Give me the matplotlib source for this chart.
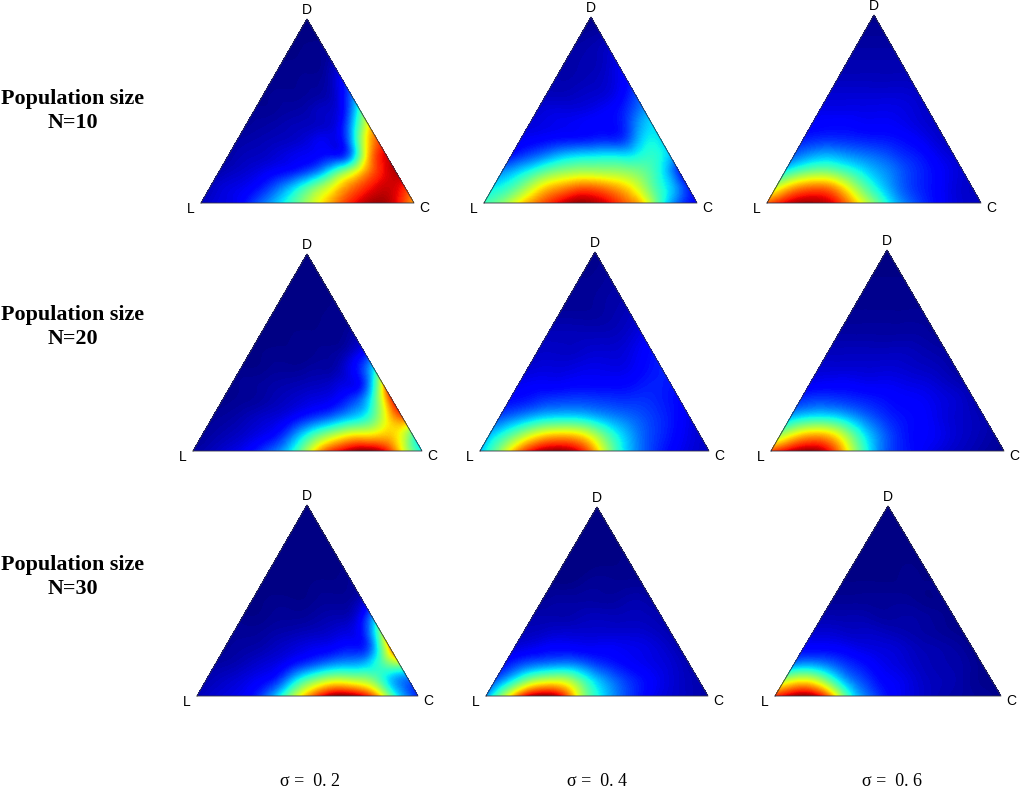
import numpy as np
import matplotlib
matplotlib.use('Agg')
import matplotlib.pyplot as plt
import matplotlib.tri as mtri

# values (percent of colour range) on a triangular lattice, bottom row first, L -> C
n10_s2 = [[5,8,10,18,28,40,54,68,82,92,97,90,72],
          [5,8,10,15,24,36,50,64,78,88,93,86],
          [4,6,8,11,14,20,32,50,68,86,95],
          [3,5,6,8,10,12,15,28,72,92],
          [3,4,5,6,8,10,13,50,82],
          [2,3,4,5,6,8,28,66],
          [2,2,3,4,6,12,42],
          [1,2,2,3,6,22],
          [1,1,2,3,12],
          [1,1,1,5],
          [0,1,2],
          [0,0],
          [0]]
n10_s4 = [[42,50,65,78,88,96,96,90,80,66,40,20,12],
          [35,42,55,68,75,80,78,72,62,46,32,15],
          [26,33,42,50,54,55,54,52,47,36,15],
          [14,20,26,32,35,36,36,37,40,30],
          [10,12,14,15,16,17,20,34,34],
          [8,9,10,11,12,13,24,34],
          [7,8,8,9,11,16,26],
          [5,5,6,7,10,18],
          [4,4,5,7,12],
          [3,4,5,9],
          [3,4,6],
          [2,3],
          [1]]
n10_s6 = [[80,90,96,95,86,68,50,33,22,15,10,7,5],
          [58,72,78,76,62,45,32,22,16,12,8,6],
          [36,46,50,46,38,30,24,18,14,10,7],
          [22,28,30,27,24,21,17,14,10,7],
          [15,17,17,16,15,14,12,9,6],
          [11,12,12,11,11,10,8,6],
          [9,9,9,9,9,8,6],
          [7,7,7,7,7,6],
          [5,5,5,5,5],
          [4,4,4,4],
          [3,3,3],
          [2,2],
          [1]]
n20_s2 = [[3,5,8,12,20,32,55,80,92,98,90,62,36],
          [2,4,6,9,14,28,44,56,64,66,68,45],
          [2,3,5,7,10,16,22,30,38,60,78],
          [1,2,3,5,7,9,12,20,42,85],
          [1,2,3,4,5,6,9,18,68],
          [1,1,2,2,3,4,12,34],
          [0,1,1,1,2,4,12],
          [0,0,1,1,1,4],
          [0,0,0,1,1],
          [0,0,0,1],
          [0,0,0],
          [0,0],
          [0]]
n20_s4 = [[30,50,75,92,97,92,72,45,28,18,12,8,6],
          [30,42,56,66,68,62,46,32,22,16,11,7],
          [20,26,32,35,35,31,26,22,18,14,9],
          [13,15,18,19,19,18,17,17,15,12],
          [10,11,11,12,12,12,13,15,14],
          [7,8,8,9,9,9,12,15],
          [6,6,6,7,7,9,13],
          [5,5,5,5,6,9],
          [3,3,3,4,6],
          [2,2,3,4],
          [2,2,3],
          [1,2],
          [1]]
n20_s6 = [[82,92,97,88,62,36,20,14,10,7,5,3,2],
          [52,66,70,60,40,25,16,12,10,7,5,3],
          [30,36,36,30,22,16,13,11,8,6,4],
          [17,19,18,16,14,12,11,9,7,4],
          [10,11,11,10,10,9,8,6,4],
          [7,7,7,7,7,6,5,3],
          [5,5,5,5,5,4,3],
          [3,3,3,3,3,2],
          [2,2,2,2,2],
          [1,1,1,1],
          [1,1,1],
          [0,0],
          [0]]
n30_s2 = [[5,7,9,13,25,48,72,92,98,90,65,32,15],
          [4,6,8,11,18,36,50,58,56,50,32,22],
          [3,4,6,8,12,18,24,28,30,42,52],
          [2,3,4,6,8,10,12,14,24,70],
          [2,2,3,4,5,6,8,14,50],
          [1,1,2,2,3,4,6,24],
          [0,1,1,1,2,2,6],
          [0,0,0,1,1,2],
          [0,0,0,0,1],
          [0,0,0,0],
          [0,0,0],
          [0,0],
          [0]]
n30_s4 = [[25,55,85,97,90,60,38,25,16,10,7,5,3],
          [20,36,52,58,54,38,26,18,13,9,6,4],
          [13,20,24,26,24,18,14,11,9,7,4],
          [8,10,12,12,11,11,10,9,7,4],
          [5,6,7,7,7,7,7,6,4],
          [4,4,4,5,5,5,5,4],
          [2,3,3,3,3,4,3],
          [1,1,2,2,2,2],
          [0,0,1,1,1],
          [0,0,0,1],
          [0,0,0],
          [0,0],
          [0]]
n30_s6 = [[85,95,95,72,38,22,13,9,6,4,3,2,1],
          [55,62,52,32,20,13,10,7,5,4,2,1],
          [25,27,22,16,12,9,7,5,4,3,1],
          [12,12,11,9,8,7,5,4,3,1],
          [7,7,6,6,5,4,3,2,1],
          [4,4,4,3,3,3,2,1],
          [2,2,2,2,2,1,1],
          [1,1,1,1,1,1],
          [0,0,0,1,0],
          [0,0,0,0],
          [0,0,0],
          [0,0],
          [0]]

panel_values = [n10_s2, n10_s4, n10_s6, n20_s2, n20_s4, n20_s6, n30_s2, n30_s4, n30_s6]
row_labels = ['Population size\nN=10', 'Population size\nN=20', 'Population size\nN=30']
col_labels = ['σ =  0. 2', 'σ =  0. 4', 'σ =  0. 6']

# triangle corners in figure pixels: L, C, D
corners = [((201, 203), (414, 203), (307, 19)),
           ((484, 203), (697, 203), (591, 17)),
           ((767, 203), (981, 203), (874, 15)),
           ((193, 451), (422, 451), (307, 254)),
           ((480, 451), (709, 451), (595, 252)),
           ((771, 451), (1004, 451), (887, 250)),
           ((197, 696), (418, 696), (307, 505)),
           ((486, 696), (708, 696), (597, 507)),
           ((775, 696), (1001, 696), (888, 506))]

fig = plt.figure(figsize=(10.24, 7.9), dpi=100)
ax = fig.add_axes([0, 0, 1, 1])
ax.set_xlim(0, 1024)
ax.set_ylim(790, 0)
ax.axis('off')

levels = np.linspace(0, 1, 129)
for vals, (L, C, D) in zip(panel_values, corners):
    L, C, D = np.array(L), np.array(C), np.array(D)
    m = len(vals) - 1
    px, py, z, index = [], [], [], {}
    for j, row in enumerate(vals):
        for i, v in enumerate(row):
            p = (L * (m - i - j) + C * i + D * j) / m
            index[(i, j)] = len(z)
            px.append(p[0])
            py.append(p[1])
            z.append(v / 100)
    tris = []
    for j in range(m):
        for i in range(m - j):
            tris.append([index[(i, j)], index[(i + 1, j)], index[(i, j + 1)]])
            if i + j + 2 <= m:
                tris.append([index[(i + 1, j)], index[(i + 1, j + 1)], index[(i, j + 1)]])
    triang = mtri.Triangulation(px, py, tris)
    fine, zf = mtri.UniformTriRefiner(triang).refine_field(np.array(z), subdiv=3)
    ax.tricontourf(fine, np.clip(zf, 0, 1), levels=levels, cmap='jet', vmin=0, vmax=1)
    ax.plot([L[0], C[0], D[0], L[0]], [L[1], C[1], D[1], L[1]], color='#333344', lw=0.6)
    ax.text(L[0] - 10, L[1] + 6, 'L', ha='center', va='center', fontsize=10, family='Liberation Sans')
    ax.text(C[0] + 10, C[1] + 5, 'C', ha='center', va='center', fontsize=10, family='Liberation Sans')
    ax.text(D[0], D[1] - 9, 'D', ha='center', va='center', fontsize=10, family='Liberation Sans')

for label, y in zip(row_labels, [111, 327, 577]):
    ax.text(73, y, label, ha='center', va='center', fontsize=15.8, fontweight='bold',
            family='Liberation Serif', linespacing=1.3)

for label, x in zip(col_labels, [310, 597, 892]):
    ax.text(x, 781, label, ha='center', va='center', fontsize=13, family='Liberation Serif')

fig.savefig('out.png', dpi=100)
